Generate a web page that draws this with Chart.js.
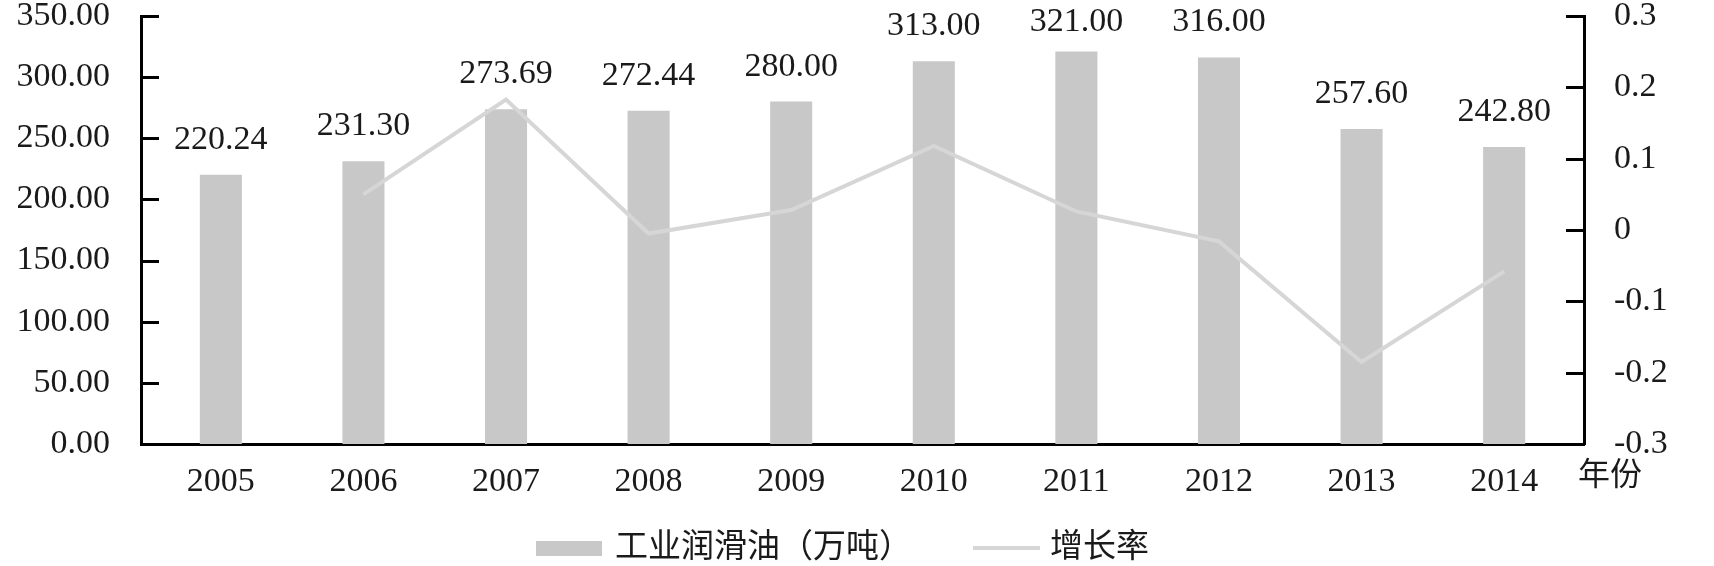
<!DOCTYPE html>
<html lang="zh">
<head>
<meta charset="utf-8">
<script src="https://cdn.jsdelivr.net/npm/chart.js@4.4.1/dist/chart.umd.min.js"></script>
<style>
    html, body { margin: 0; padding: 0; background: #fff; }
    canvas { display: block; }
</style>
</head>
<body>
<canvas id="chart" width="1714" height="566"></canvas>
<script>
// 数据
const years = ['2005', '2006', '2007', '2008', '2009', '2010', '2011', '2012', '2013', '2014'];
const volume = [220.24, 231.30, 273.69, 272.44, 280.00, 313.00, 321.00, 316.00, 257.60, 242.80];
const growthYears = ['2006', '2007', '2008', '2009', '2010', '2011', '2012', '2013', '2014'];
const growth = [0.050, 0.183, -0.005, 0.028, 0.118, 0.026, -0.016, -0.185, -0.058];
const volumeTicks = { min: 0, max: 350, step: 50 };
const growthTicks = { min: -0.3, max: 0.3, step: 0.1 };
const seriesNames = ['工业润滑油（万吨）', '增长率'];
const xAxisName = '年份';

const SERIF = "'Liberation Serif', 'Times New Roman', 'Noto Sans CJK SC', serif";
const BAR_COLOR = '#c8c8c8';
const LINE_COLOR = '#d6d6d6';
const INK = '#1a1a1a';

// 刻度线朝内 + 柱顶数值 + 图例 + 年份
const decorPlugin = {
    id: 'decor',
    afterDraw(chart) {
        const ctx = chart.ctx;
        const area = chart.chartArea;
        ctx.save();

        // 刻度
        ctx.strokeStyle = '#000';
        ctx.lineWidth = 3;
        const yl = chart.scales.y, yr = chart.scales.y1;
        yl.ticks.forEach((t, i) => {
            const y = Math.round(yl.getPixelForTick(i)) + 0.5;
            ctx.beginPath(); ctx.moveTo(area.left, y); ctx.lineTo(area.left + 18, y); ctx.stroke();
        });
        yr.ticks.forEach((t, i) => {
            const y = Math.round(yr.getPixelForTick(i)) + 0.5;
            ctx.beginPath(); ctx.moveTo(area.right, y); ctx.lineTo(area.right - 18, y); ctx.stroke();
        });

        // 柱顶数值
        ctx.fillStyle = INK;
        ctx.font = '34px ' + SERIF;
        ctx.textAlign = 'center';
        ctx.textBaseline = 'middle';
        chart.getDatasetMeta(1).data.forEach((bar, i) => {
            const y = Math.max(bar.y - 35, 22);
            ctx.fillText(volume[i].toFixed(2), bar.x, y);
        });

        // 年份
        ctx.textAlign = 'left';
        ctx.font = '32px ' + SERIF;
        ctx.fillText(xAxisName, area.right - 6, area.bottom + 33);

        // 图例
        const ly = 548;
        ctx.font = '33px ' + SERIF;
        let x = 536;
        ctx.fillStyle = BAR_COLOR;
        ctx.fillRect(x, ly - 7, 66, 15);
        x += 66 + 13;
        ctx.fillStyle = INK;
        ctx.fillText(seriesNames[0], x, ly);
        x += ctx.measureText(seriesNames[0]).width + 61;
        ctx.strokeStyle = LINE_COLOR;
        ctx.lineWidth = 4;
        ctx.beginPath(); ctx.moveTo(x, ly); ctx.lineTo(x + 67, ly); ctx.stroke();
        x += 67 + 10;
        ctx.fillText(seriesNames[1], x, ly);

        ctx.restore();
    }
};

const axisBorder = { display: true, color: '#000', width: 3 };
const tickFont = { family: SERIF, size: 34 };

new Chart(document.getElementById('chart'), {
    type: 'bar',
    data: {
        datasets: [{
            type: 'line',
            label: seriesNames[1],
            data: growthYears.map((y, i) => ({ x: years.indexOf(y), y: growth[i] })),
            yAxisID: 'y1',
            borderColor: LINE_COLOR,
            borderWidth: 4,
            pointRadius: 0,
            tension: 0,
            fill: false
        }, {
            type: 'bar',
            label: seriesNames[0],
            data: years.map((y, i) => ({ x: i, y: volume[i] })),
            yAxisID: 'y',
            backgroundColor: BAR_COLOR,
            categoryPercentage: 1,
            barPercentage: 0.295
        }]
    },
    options: {
        responsive: false,
        animation: false,
        devicePixelRatio: 1,
        layout: { padding: { top: 16, left: 0, right: 0, bottom: 0 } },
        plugins: { legend: { display: false }, tooltip: { enabled: false } },
        scales: {
            x: {
                type: 'linear',
                min: -0.56,
                max: 9.56,
                offset: false,
                z: 1,
                grid: { display: false, offset: false },
                border: axisBorder,
                ticks: {
                    stepSize: 1,
                    includeBounds: false,
                    autoSkip: false,
                    maxRotation: 0,
                    padding: 10,
                    color: INK,
                    font: tickFont,
                    callback: v => years[v] ?? ''
                },
                afterFit: s => { s.height = 122; s.paddingLeft = 0; s.paddingRight = 0; }
            },
            y: {
                position: 'left',
                min: volumeTicks.min,
                max: volumeTicks.max,
                z: 1,
                grid: { display: false },
                border: axisBorder,
                ticks: {
                    stepSize: volumeTicks.step,
                    padding: 23,
                    color: INK,
                    font: tickFont,
                    callback: v => v.toFixed(2)
                },
                afterFit: s => { s.width = 141; s.paddingTop = 0; s.paddingBottom = 0; }
            },
            y1: {
                position: 'right',
                min: growthTicks.min,
                max: growthTicks.max,
                z: 1,
                grid: { display: false },
                border: axisBorder,
                ticks: {
                    stepSize: growthTicks.step,
                    padding: 22,
                    color: INK,
                    font: tickFont,
                    callback: v => String(Math.round(v * 10) / 10)
                },
                afterFit: s => { s.width = 130; s.paddingTop = 0; s.paddingBottom = 0; }
            }
        }
    },
    plugins: [decorPlugin]
});
</script>
</body>
</html>
